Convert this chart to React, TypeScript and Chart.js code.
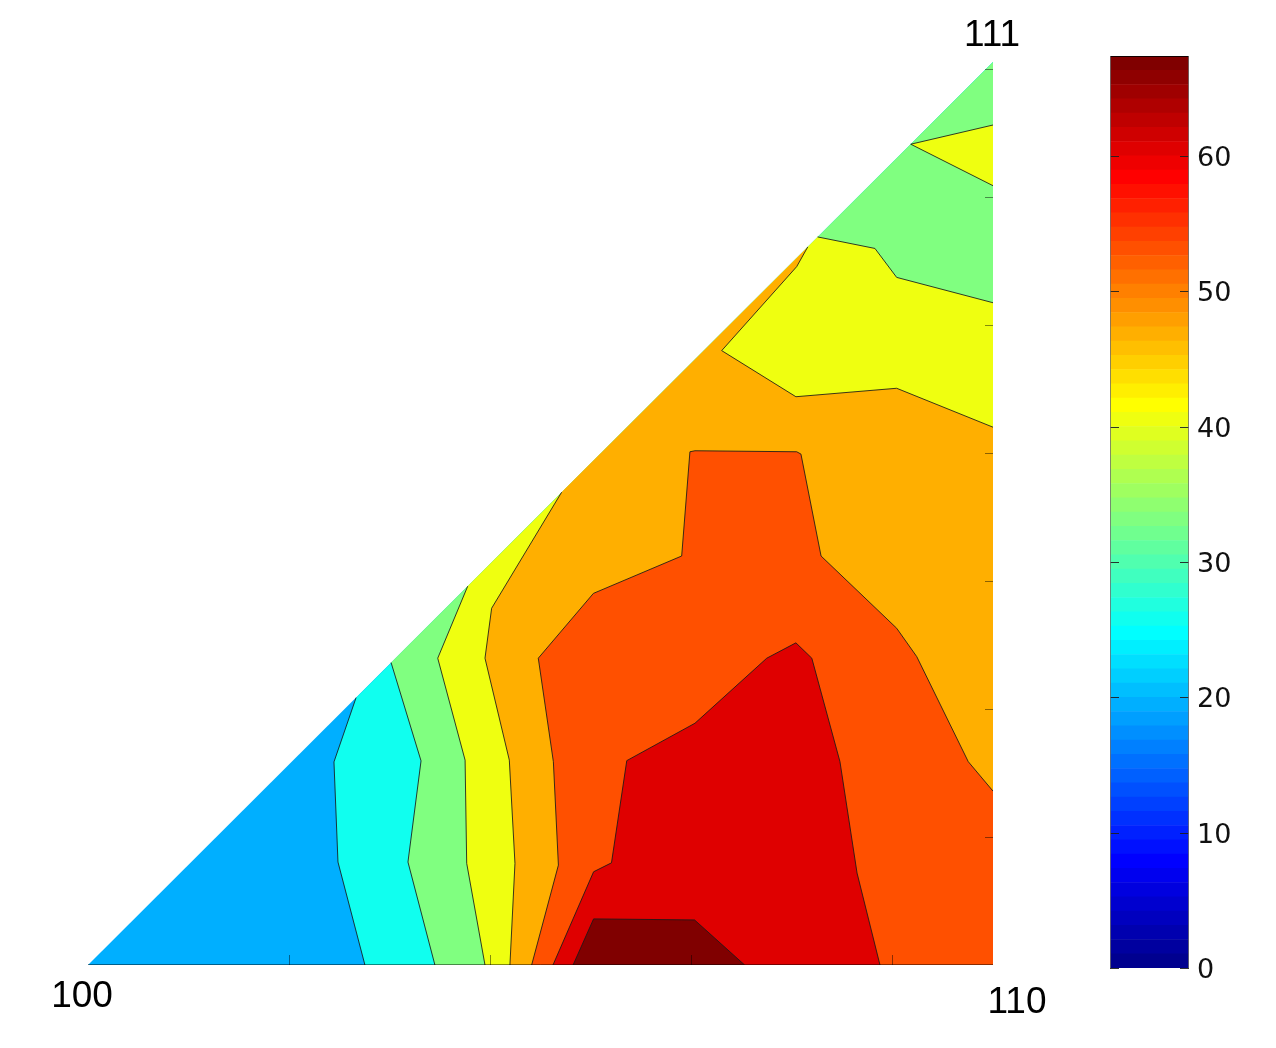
import { useEffect, useRef } from "react"
import { Chart, registerables } from "chart.js"

Chart.register(...registerables)

type Pt = [number, number]

// Triângulo estereográfico (graus)
const xMax = 45
const yMax = 35.26
const xTickValues = [10, 20, 30, 40]
const yTickValues = [5, 10, 15, 20, 25, 30, 35]
const cornerNames = ["100", "110", "111"]
const cornerPoints: Pt[] = [[0, 0], [45, 0], [45, 35.26]]

// Escala de cores
const colorRange = [0, 67.4]
const colorBarTicks = [0, 10, 20, 30, 40, 50, 60]
const colorSteps = 64

// Regiões dos contornos, da mais baixa para a mais alta
const blueRegion: Pt[] = [[0, 0], [45, 0], [45, 35.26], [0, 0]]
const cyanRegion: Pt[] = [[13.33, 10.44], [45, 35.26], [45, 0], [13.77, 0], [12.43, 4.02], [12.23, 7.93], [13.33, 10.44]]
const greenRegion: Pt[] = [[15.07, 11.81], [45, 35.26], [45, 0], [17.25, 0], [15.91, 4.02], [16.56, 7.97], [15.07, 11.81]]
const yellowRegion: Pt[] = [
  [18.88, 14.79], [36.28, 28.43], [39.13, 27.98], [40.21, 26.85], [45, 25.86], [45, 0],
  [19.74, 0], [18.83, 3.97], [18.75, 8.0], [17.39, 11.98], [18.88, 14.79],
]
const yellowCap: Pt[] = [[45, 32.8], [40.91, 32.05], [45, 30.43], [45, 32.8]]
const orangeRegion: Pt[] = [
  [23.55, 18.46], [35.79, 28.04], [35.24, 27.27], [31.51, 23.99], [35.2, 22.19], [40.21, 22.52],
  [45, 21.0], [45, 0], [20.98, 0], [21.23, 3.97], [20.95, 8.0], [19.74, 11.98], [20.07, 13.93], [23.55, 18.46],
]
const orangeRedRegion: Pt[] = [
  [22.06, 0], [23.39, 3.9], [23.14, 7.94], [22.39, 11.98], [25.13, 14.51], [29.52, 15.97], [29.93, 20.04],
  [30.18, 20.08], [35.24, 20.04], [35.45, 19.95], [36.45, 15.97], [40.21, 13.15], [41.21, 12.04],
  [43.77, 7.94], [45, 6.79], [45, 0], [22.06, 0],
]
const redRegion: Pt[] = [
  [23.12, 0], [25.14, 3.64], [26.03, 3.99], [26.79, 7.98], [30.18, 9.44], [33.75, 11.98], [35.2, 12.58],
  [35.99, 11.98], [37.39, 7.94], [38.24, 3.59], [39.38, 0], [23.12, 0],
]
const darkRedRegion: Pt[] = [[24.12, 0], [25.14, 1.8], [30.16, 1.76], [32.65, 0], [24.12, 0]]

const regions = [blueRegion, cyanRegion, greenRegion, yellowRegion, yellowCap, orangeRegion, orangeRedRegion, redRegion, darkRedRegion]
// índice de cada região na paleta jet(64)
const regionColorIndex = [18, 24, 31, 38, 38, 44, 50, 57, 63]

const lineColor = "rgba(25,25,25,0.85)"

// paleta jet igual à do MATLAB
function jetPalette(m: number) {
  const n = Math.ceil(m / 4)
  const u: number[] = []
  for (let k = 1; k <= n; k++) u.push(k / n)
  for (let k = 1; k < n; k++) u.push(1)
  for (let k = n; k >= 1; k--) u.push(k / n)
  const g0 = Math.ceil(n / 2) - (m % 4 === 1 ? 1 : 0)
  const rgb = Array.from({ length: m }, () => [0, 0, 0])
  u.forEach((v, k) => {
    const gi = g0 + k
    if (gi < m) rgb[gi][1] = v
    if (gi + n < m) rgb[gi + n][0] = v
    if (gi - n >= 0) rgb[gi - n][2] = v
  })
  return rgb.map((c) => `rgb(${c.map((v) => Math.round(v * 255)).join(",")})`)
}

const slope = yMax / xMax
function onEdge(a: Pt, b: Pt) {
  const e = 0.12
  if (Math.abs(a[1]) < e && Math.abs(b[1]) < e) return true
  if (Math.abs(a[0] - xMax) < e && Math.abs(b[0] - xMax) < e) return true
  return Math.abs(a[1] - slope * a[0]) < e && Math.abs(b[1] - slope * b[0]) < e
}

const framePlugin = {
  id: "triangleFrame",
  afterDatasetsDraw(chart: any) {
    const { ctx } = chart
    const x = chart.scales.x
    const y = chart.scales.y
    const x0 = x.getPixelForValue(0)
    const x1 = x.getPixelForValue(xMax)
    const y0 = y.getPixelForValue(0)
    ctx.save()
    ctx.strokeStyle = "rgba(0,0,0,0.45)"
    ctx.lineWidth = 1
    ctx.beginPath()
    ctx.moveTo(x0, y0 - 0.5)
    ctx.lineTo(x1, y0 - 0.5)
    xTickValues.forEach((v) => {
      const px = Math.round(x.getPixelForValue(v)) + 0.5
      ctx.moveTo(px, y0)
      ctx.lineTo(px, y0 - 10)
    })
    yTickValues.forEach((v) => {
      const py = Math.round(y.getPixelForValue(v)) + 0.5
      ctx.moveTo(x1, py)
      ctx.lineTo(x1 - 8, py)
    })
    ctx.stroke()

    ctx.fillStyle = "#000"
    ctx.font = "37px 'Liberation Sans', Arial, sans-serif"
    ctx.textAlign = "center"
    ctx.textBaseline = "middle"
    const offsets = [[-6, 32], [24, 38], [-1, -26]]
    cornerNames.forEach((name, i) => {
      const [cx, cy] = cornerPoints[i]
      ctx.fillText(name, x.getPixelForValue(cx) + offsets[i][0], y.getPixelForValue(cy) + offsets[i][1])
    })
    ctx.restore()
  },
}

function ContourChart() {
  const canvasRef = useRef<HTMLCanvasElement>(null)
  const chartInstance = useRef<Chart | null>(null)

  useEffect(() => {
    if (!canvasRef.current) return
    if (chartInstance.current) chartInstance.current.destroy()

    const palette = jetPalette(colorSteps)
    const datasets: any[] = []
    regions.forEach((pts, i) => {
      const data = pts.map(([x, y]) => ({ x, y }))
      const rank = regions.length - i
      // preenchimento
      datasets.push({
        data,
        showLine: true,
        fill: "shape",
        backgroundColor: palette[regionColorIndex[i]],
        borderColor: "transparent",
        borderWidth: 0,
        pointRadius: 0,
        tension: 0,
        order: rank * 2 + 1,
      })
      // linha de contorno (sem as bordas do triângulo)
      datasets.push({
        data,
        showLine: true,
        fill: false,
        borderColor: lineColor,
        borderWidth: 1,
        pointRadius: 0,
        tension: 0,
        order: rank * 2,
        segment: {
          borderColor: (c: any) => (onEdge(pts[c.p0DataIndex], pts[c.p1DataIndex]) ? "transparent" : lineColor),
        },
      })
    })

    chartInstance.current = new Chart(canvasRef.current, {
      type: "scatter",
      data: { datasets },
      options: {
        responsive: false,
        animation: false,
        events: [],
        layout: { padding: { left: 88, right: 97, top: 62, bottom: 83 } },
        scales: {
          x: { type: "linear", min: 0, max: xMax, display: false },
          y: { type: "linear", min: 0, max: yMax, display: false },
        },
        plugins: { legend: { display: false }, tooltip: { enabled: false } },
      },
      plugins: [framePlugin],
    })

    return () => {
      if (chartInstance.current) {
        chartInstance.current.destroy()
        chartInstance.current = null
      }
    }
  }, [])

  return <canvas ref={canvasRef} width={1090} height={1048} style={{ display: "block" }} />
}

const colorBarPlugin = {
  id: "colorBarTicks",
  afterDatasetsDraw(chart: any) {
    const { ctx, chartArea } = chart
    const y = chart.scales.y
    ctx.save()
    ctx.strokeStyle = "rgba(30,30,30,0.9)"
    ctx.lineWidth = 1
    ctx.beginPath()
    colorBarTicks.forEach((v) => {
      const py = Math.round(y.getPixelForValue(v)) + 0.5
      ctx.moveTo(chartArea.left, py)
      ctx.lineTo(chartArea.left + 9, py)
      ctx.moveTo(chartArea.right, py)
      ctx.lineTo(chartArea.right - 9, py)
    })
    ctx.stroke()
    ctx.strokeStyle = "rgba(0,0,0,0.85)"
    ctx.beginPath()
    ctx.moveTo(chartArea.left, chartArea.top + 0.5)
    ctx.lineTo(chartArea.right, chartArea.top + 0.5)
    ctx.stroke()
    ctx.strokeStyle = "rgba(110,110,110,0.8)"
    ctx.beginPath()
    ctx.moveTo(chartArea.left + 0.5, chartArea.top)
    ctx.lineTo(chartArea.left + 0.5, chartArea.bottom)
    ctx.moveTo(chartArea.right - 0.5, chartArea.top)
    ctx.lineTo(chartArea.right - 0.5, chartArea.bottom)
    ctx.stroke()
    ctx.restore()
  },
}

function ColorBar() {
  const canvasRef = useRef<HTMLCanvasElement>(null)
  const chartInstance = useRef<Chart | null>(null)

  useEffect(() => {
    if (!canvasRef.current) return
    if (chartInstance.current) chartInstance.current.destroy()

    const palette = jetPalette(colorSteps)
    const band = (colorRange[1] - colorRange[0]) / colorSteps
    const datasets = palette.map((color) => ({
      data: [band],
      backgroundColor: color,
      borderWidth: 0,
      barPercentage: 1,
      categoryPercentage: 1,
      stack: "bar",
    }))

    chartInstance.current = new Chart(canvasRef.current, {
      type: "bar",
      data: { labels: ["c"], datasets },
      options: {
        responsive: false,
        animation: false,
        events: [],
        layout: { padding: { left: 10, right: 0, top: 16, bottom: 20 } },
        scales: {
          x: { stacked: true, display: false },
          y: {
            stacked: true,
            position: "right",
            min: colorRange[0],
            max: colorRange[1],
            grid: { display: false, drawTicks: false },
            border: { display: false },
            ticks: {
              stepSize: 10,
              includeBounds: false,
              padding: 8,
              labelOffset: 3,
              color: "#111",
              font: { family: "'DejaVu Sans', Verdana, sans-serif", size: 27 },
            },
            afterFit: (scale: any) => {
              scale.width = 87
              scale.paddingTop = 0
              scale.paddingBottom = 0
            },
          },
        },
        plugins: { legend: { display: false }, tooltip: { enabled: false } },
      },
      plugins: [colorBarPlugin],
    })

    return () => {
      if (chartInstance.current) {
        chartInstance.current.destroy()
        chartInstance.current = null
      }
    }
  }, [])

  return <canvas ref={canvasRef} width={176} height={948} style={{ display: "block" }} />
}

export default function App() {
  return (
    <div style={{ position: "absolute", left: 0, top: 0, width: 1276, height: 1048, background: "#fff" }}>
      <div style={{ position: "absolute", left: 0, top: 0 }}>
        <ContourChart />
      </div>
      <div style={{ position: "absolute", left: 1100, top: 40 }}>
        <ColorBar />
      </div>
    </div>
  )
}
